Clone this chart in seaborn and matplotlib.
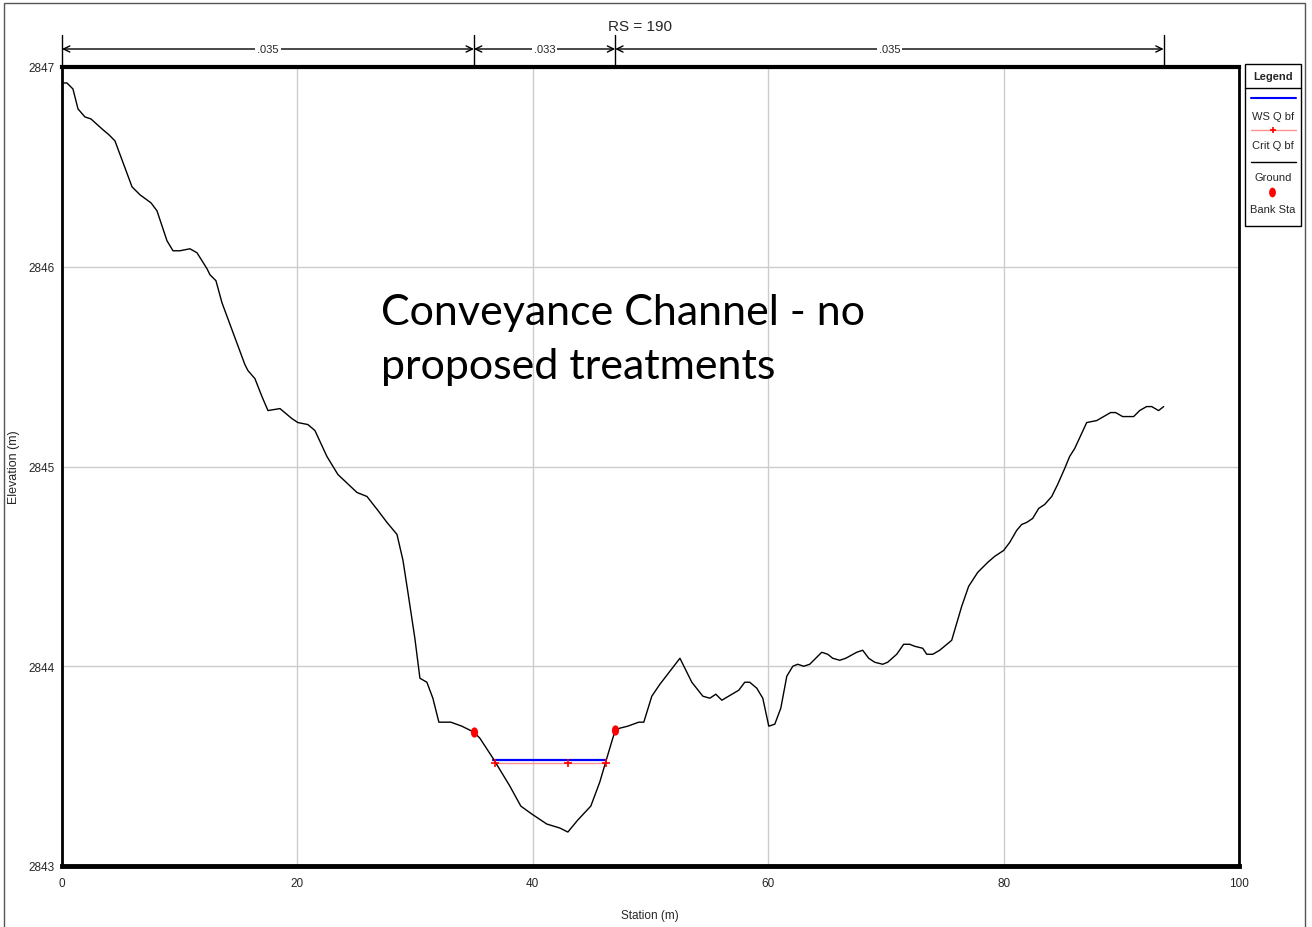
import matplotlib
matplotlib.use("Agg")
import matplotlib.pyplot as plt
import matplotlib.transforms as mtransforms
import pandas as pd
import seaborn as sns
from matplotlib.lines import Line2D
from matplotlib.markers import MarkerStyle
from matplotlib.patches import Rectangle
from matplotlib.ticker import MultipleLocator

# Ground profile of cross section RS 190 (station m, elevation m)
station = [0.00, 0.42, 0.93, 1.36, 1.95, 2.46, 3.40, 4.00, 4.50, 5.95, 6.63, 7.56,
           8.07, 8.92, 9.43, 10.02, 10.87, 11.47, 12.32, 12.57, 13.08, 13.59, 15.54,
           15.80, 16.39, 16.99, 17.50, 18.52, 19.53, 20.04, 20.89, 21.49, 22.51,
           23.44, 25.06, 25.91, 26.84, 27.61, 28.46, 28.97, 29.39, 29.98, 30.41,
           31.00, 31.51, 32.02, 32.53, 33.04, 33.97, 35.00, 35.50, 36.61, 38.05,
           38.98, 39.92, 41.19, 42.30, 42.98, 43.82, 44.93, 45.69, 46.29, 47.00,
           47.39, 48.07, 49.00, 49.43, 50.11, 50.80, 52.50, 53.51, 54.45, 55.04,
           55.55, 56.06, 57.50, 58.01, 58.43, 59.03, 59.54, 60.05, 60.56, 61.07,
           61.58, 62.09, 62.51, 63.02, 63.53, 64.55, 65.06, 65.48, 66.08, 66.59,
           67.52, 68.03, 68.54, 69.05, 69.73, 70.15, 70.92, 71.51, 72.02, 72.45,
           73.13, 73.47, 73.98, 74.57, 75.59, 76.44, 77.03, 77.80, 78.65, 79.24,
           80.01, 80.52, 81.11, 81.54, 81.96, 82.47, 82.98, 83.49, 84.09, 84.59,
           85.19, 85.61, 86.04, 87.06, 87.91, 88.50, 89.09, 89.52, 90.11, 90.71,
           91.05, 91.56, 92.15, 92.58, 93.17, 93.60]
elevation = [2846.92, 2846.92, 2846.89, 2846.79, 2846.75, 2846.74, 2846.69, 2846.66,
             2846.63, 2846.40, 2846.36, 2846.32, 2846.28, 2846.13, 2846.08, 2846.08,
             2846.09, 2846.07, 2845.99, 2845.96, 2845.93, 2845.82, 2845.51, 2845.48,
             2845.44, 2845.35, 2845.28, 2845.29, 2845.24, 2845.22, 2845.21, 2845.18,
             2845.05, 2844.96, 2844.87, 2844.85, 2844.78, 2844.72, 2844.66, 2844.53,
             2844.37, 2844.14, 2843.94, 2843.92, 2843.84, 2843.72, 2843.72, 2843.72,
             2843.70, 2843.67, 2843.64, 2843.54, 2843.40, 2843.30, 2843.26, 2843.21,
             2843.19, 2843.17, 2843.23, 2843.30, 2843.42, 2843.54, 2843.68, 2843.69,
             2843.70, 2843.72, 2843.72, 2843.85, 2843.91, 2844.04, 2843.92, 2843.85,
             2843.84, 2843.86, 2843.83, 2843.88, 2843.92, 2843.92, 2843.89, 2843.84,
             2843.70, 2843.71, 2843.79, 2843.95, 2844.00, 2844.01, 2844.00, 2844.01,
             2844.07, 2844.06, 2844.04, 2844.03, 2844.04, 2844.07, 2844.08, 2844.04,
             2844.02, 2844.01, 2844.02, 2844.06, 2844.11, 2844.11, 2844.10, 2844.09,
             2844.06, 2844.06, 2844.08, 2844.13, 2844.30, 2844.40, 2844.47, 2844.52,
             2844.55, 2844.58, 2844.62, 2844.68, 2844.71, 2844.72, 2844.74, 2844.79,
             2844.81, 2844.85, 2844.91, 2844.99, 2845.05, 2845.09, 2845.22, 2845.23,
             2845.25, 2845.27, 2845.27, 2845.25, 2845.25, 2845.25, 2845.28, 2845.30,
             2845.30, 2845.28, 2845.30]

bank_station = [35.00, 47.00]
bank_elevation = [2843.67, 2843.68]

ws_station = [36.63, 46.26]
ws_elevation = [2843.53, 2843.53]

crit_station = [36.80, 43.00, 46.20]
crit_elevation = [2843.515, 2843.515, 2843.515]

n_breaks = [0.0, 35.0, 47.0, 93.6]
n_values = [".035", ".033", ".035"]

x_ticks = [0, 20, 40, 60, 80, 100]
y_ticks = [2843, 2844, 2845, 2846, 2847]

ground = pd.DataFrame({"Station": station, "Elevation": elevation})
banks = pd.DataFrame({"Station": bank_station, "Elevation": bank_elevation})
ws = pd.DataFrame({"Station": ws_station, "Elevation": ws_elevation})
crit = pd.DataFrame({"Station": crit_station, "Elevation": crit_elevation})

sns.set_style("white")
NARROW = ["Liberation Sans Narrow", "Liberation Sans", "DejaVu Sans"]
plt.rcParams["font.family"] = NARROW

W, H = 1312, 928
fig = plt.figure(figsize=(W / 100, H / 100), dpi=100)
fig.patch.set_facecolor("white")


def fx(px):
    return px / W


def fy(py):
    return 1 - py / H


ax = fig.add_axes([fx(62), fy(867), fx(1239) - fx(62), fy(68) - fy(867)])

sns.lineplot(data=ws, x="Station", y="Elevation", ax=ax, color="#0000ff",
             linewidth=1.6, sort=False, zorder=4)
sns.lineplot(data=crit, x="Station", y="Elevation", ax=ax, color="#ff9090",
             linewidth=1.0, sort=False, zorder=3)
sns.scatterplot(data=crit, x="Station", y="Elevation", ax=ax, marker="+",
                color="red", s=30, linewidth=1.2, zorder=5)
sns.lineplot(data=ground, x="Station", y="Elevation", ax=ax, color="black",
             linewidth=1.0, sort=False, zorder=4)
bank_marker = MarkerStyle("o", transform=mtransforms.Affine2D().scale(0.7, 1.0))
sns.scatterplot(data=banks, x="Station", y="Elevation", ax=ax, marker=bank_marker,
                color="red", s=55, linewidth=0, zorder=6)

ax.set_xlim(0, 100)
ax.set_ylim(2843, 2847)
ax.set_xticks(x_ticks)
ax.set_yticks(y_ticks)
ax.xaxis.set_minor_locator(MultipleLocator(4))
ax.yaxis.set_minor_locator(MultipleLocator(0.2))
ax.set_xticklabels([str(v) for v in x_ticks])
ax.set_yticklabels([str(v) for v in y_ticks])
ax.grid(True, which="major", color="#cccccc", linewidth=1.0)
ax.set_axisbelow(True)
ax.tick_params(axis="both", which="major", direction="out", length=4, width=1,
               labelsize=8.5, color="black")
ax.tick_params(axis="both", which="minor", direction="out", length=3.5, width=1,
               color="black")
ax.tick_params(axis="x", which="major", pad=4)
ax.tick_params(axis="y", which="major", pad=1)
ax.set_xlabel("")
ax.set_ylabel("")
for side, lw in {"top": 3.0, "bottom": 3.5, "left": 2.0, "right": 2.0}.items():
    ax.spines[side].set_visible(True)
    ax.spines[side].set_color("black")
    ax.spines[side].set_linewidth(lw)

# Axis titles
fig.text(fx(650), fy(916), "Station (m)", ha="center", va="center", fontsize=8.5)
fig.text(fx(14), fy(467), "Elevation (m)", ha="center", va="center",
         rotation=90, fontsize=9, family=["Liberation Sans", "DejaVu Sans"])

# Manning's n segments above the plot
blend = mtransforms.blended_transform_factory(ax.transData, fig.transFigure)
y_line = fy(50)
for x in n_breaks:
    fig.add_artist(Line2D([x, x], [fy(36), fy(68)], transform=blend,
                          color="black", linewidth=1.0))
for x0, x1, label in zip(n_breaks[:-1], n_breaks[1:], n_values):
    ax.annotate("", xy=(x1, y_line), xytext=(x0, y_line), xycoords=blend,
                textcoords=blend, annotation_clip=False,
                arrowprops=dict(arrowstyle="<->,head_length=0.45,head_width=0.22",
                                color="black", linewidth=1.0,
                                shrinkA=0, shrinkB=0))
    ax.text((x0 + x1) / 2, y_line, label, transform=blend, ha="center",
            va="center", fontsize=8,
            bbox=dict(facecolor="white", edgecolor="none", pad=1.5))

fig.text(fx(640), fy(27), "RS = 190", ha="center", va="center", fontsize=11)

# Annotation
fig.text(fx(381), fy(294), "Conveyance Channel - no\nproposed treatments",
         ha="left", va="top", fontsize=31, linespacing=1.5,
         family=["Lato", "DejaVu Sans"], color="black")

# Legend panel
fig.add_artist(Rectangle((fx(1245), fy(227)), fx(1301) - fx(1245),
                         fy(65) - fy(227), transform=fig.transFigure,
                         facecolor="white", edgecolor="black", linewidth=1.0))
fig.add_artist(Line2D([fx(1245), fx(1301)], [fy(89), fy(89)],
                      transform=fig.transFigure, color="black", linewidth=1.0))
fig.text(fx(1273), fy(77), "Legend", ha="center", va="center", fontsize=8,
         fontweight="bold")
fig.add_artist(Line2D([fx(1251), fx(1296)], [fy(99), fy(99)],
                      transform=fig.transFigure, color="#0000ff", linewidth=1.5))
fig.text(fx(1273), fy(117), "WS Q bf", ha="center", va="center", fontsize=8)
fig.add_artist(Line2D([fx(1251), fx(1296)], [fy(131), fy(131)],
                      transform=fig.transFigure, color="#ff9090", linewidth=1.0))
fig.add_artist(Line2D([fx(1273)], [fy(131)], transform=fig.transFigure,
                      marker="+", color="red", markersize=5, markeredgewidth=1.2,
                      linestyle="none"))
fig.text(fx(1273), fy(146), "Crit Q bf", ha="center", va="center", fontsize=8)
fig.add_artist(Line2D([fx(1251), fx(1296)], [fy(163), fy(163)],
                      transform=fig.transFigure, color="black", linewidth=1.0))
fig.text(fx(1273), fy(178), "Ground", ha="center", va="center", fontsize=8)
fig.add_artist(Line2D([fx(1272)], [fy(193)], transform=fig.transFigure,
                      marker=bank_marker, color="red", markersize=7,
                      markeredgewidth=0, linestyle="none"))
fig.text(fx(1273), fy(210), "Bank Sta", ha="center", va="center", fontsize=8)

# Outer frame
fig.add_artist(Rectangle((fx(4), fy(935)), fx(1305) - fx(4), fy(4) - fy(935),
                         transform=fig.transFigure, facecolor="none",
                         edgecolor="#555555", linewidth=1.0))

fig.savefig("out.png", dpi=100, facecolor="white")
